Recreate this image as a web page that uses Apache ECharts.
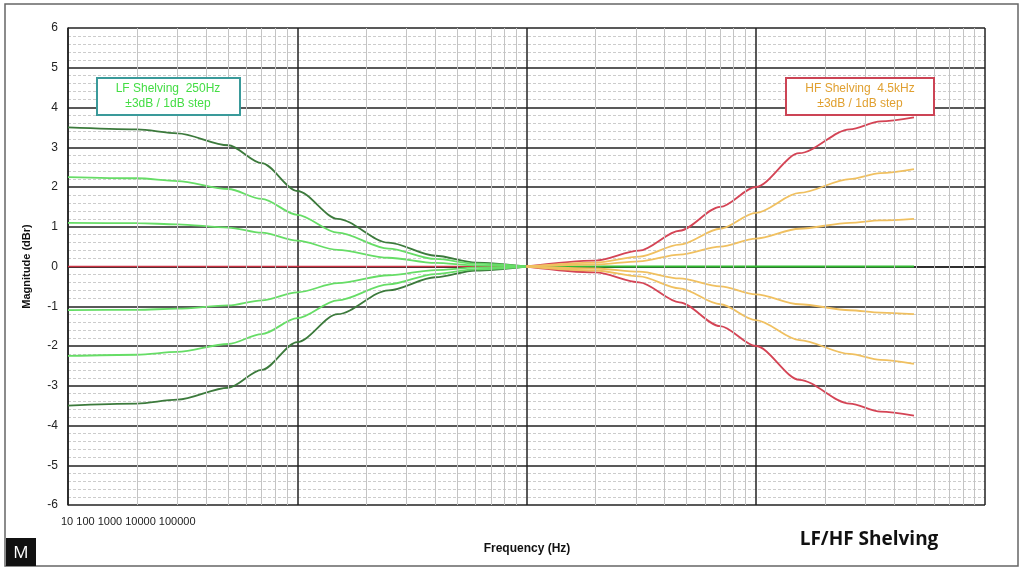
<!DOCTYPE html>
<html><head><meta charset="utf-8">
<script src="https://cdn.jsdelivr.net/npm/echarts@6/dist/echarts.min.js"></script>
<style>html,body{margin:0;background:#fff}#c{width:1024px;height:570px}</style>
</head><body><div id="c"></div>
<script>
// frequencies in Hz
const lfFreq = [10, 20, 30, 50, 70, 100, 150, 250, 400, 600, 1000];
const lfOuter = [3.5, 3.45, 3.35, 3.05, 2.6, 1.9, 1.2, 0.6, 0.27, 0.1, 0];
const lfMid = [2.25, 2.22, 2.15, 1.95, 1.7, 1.3, 0.85, 0.45, 0.19, 0.07, 0];
const lfInner = [1.1, 1.09, 1.06, 0.98, 0.85, 0.65, 0.42, 0.22, 0.09, 0.03, 0];

const hfFreq = [1000, 2000, 3100, 4650, 7000, 10000, 15500, 25700, 35000, 49000];
const hfOuter = [0, 0.15, 0.4, 0.9, 1.5, 2.0, 2.85, 3.45, 3.65, 3.75];
const hfMid = [0, 0.1, 0.25, 0.55, 0.95, 1.35, 1.85, 2.2, 2.35, 2.45];
const hfInner = [0, 0.05, 0.13, 0.3, 0.5, 0.7, 0.95, 1.1, 1.16, 1.2];

const minorFreqs = [];
[10, 100, 1000, 10000].forEach(d => { for (let k = 2; k <= 9; k++) minorFreqs.push(d * k); });

const pair = (xs, ys, sign) => xs.map((x, i) => [x, sign * ys[i]]);

function curve(data, color, w) {
  return { type: 'line', data, smooth: 0.3, smoothMonotone: 'x', symbol: 'none', silent: true,
    lineStyle: { color, width: w || 1.8 } };
}

const chart = echarts.init(document.getElementById('c'));
chart.setOption({
  animation: false,
  grid: { left: 68, right: 39, top: 28, bottom: 65 },
  xAxis: {
    type: 'log', min: 10, max: 100000, logBase: 10,
    axisLabel: { show: false }, axisTick: { show: false },
    axisLine: { lineStyle: { color: '#222', width: 1.5 } },
    splitLine: { show: true, lineStyle: { color: '#222', width: 1.5 } }
  },
  yAxis: {
    type: 'value', min: -6, max: 6, interval: 1,
    name: 'Magnitude (dBr)', nameLocation: 'middle', nameGap: 36,
    nameTextStyle: { fontFamily: 'Liberation Sans', fontWeight: 'bold', fontSize: 11, color: '#111' },
    axisLabel: { fontFamily: 'Liberation Sans', fontSize: 12, color: '#222', margin: 10 },
    axisTick: { show: false },
    axisLine: { show: true, lineStyle: { color: '#222', width: 1.5 } },
    splitLine: { lineStyle: { color: '#222', width: 1.5 } },
    minorTick: { show: false, splitNumber: 5 },
    minorSplitLine: { show: true, lineStyle: { color: '#ccc', type: [3, 2], width: 1 } }
  },
  series: [
    { type: 'line', data: [], silent: true,
      markLine: { symbol: 'none', silent: true, label: { show: false },
        lineStyle: { color: '#c4c4c4', type: 'solid', width: 1 },
        data: minorFreqs.map(f => ({ xAxis: f })) } },
    curve([[10, 0], [1000, 0]], '#cc3344', 1.5),
    curve([[1000, 0], [49000, 0]], '#33bb33', 2),
    curve(pair(lfFreq, lfOuter, 1), '#3c7a3c'),
    curve(pair(lfFreq, lfOuter, -1), '#3c7a3c'),
    curve(pair(lfFreq, lfMid, 1), '#66dd66'),
    curve(pair(lfFreq, lfMid, -1), '#66dd66'),
    curve(pair(lfFreq, lfInner, 1), '#66dd66'),
    curve(pair(lfFreq, lfInner, -1), '#66dd66'),
    curve(pair(hfFreq, hfOuter, 1), '#d44455'),
    curve(pair(hfFreq, hfOuter, -1), '#d44455'),
    curve(pair(hfFreq, hfMid, 1), '#f0c060'),
    curve(pair(hfFreq, hfMid, -1), '#f0c060'),
    curve(pair(hfFreq, hfInner, 1), '#f0c060'),
    curve(pair(hfFreq, hfInner, -1), '#f0c060')
  ],
  graphic: [
    { type: 'rect', shape: { x: 5, y: 4, width: 1013, height: 562 }, style: { fill: 'none', stroke: '#666', lineWidth: 1.5 }, z: 100 },
    { type: 'rect', shape: { x: 97, y: 78, width: 143, height: 37 }, style: { fill: '#fff', stroke: '#3a9a9a', lineWidth: 2 }, z: 100 },
    { type: 'text', x: 168, y: 96, z: 101, style: { text: 'LF Shelving  250Hz\n±3dB / 1dB step', align: 'center', verticalAlign: 'middle', fill: '#44dd44', font: '12px Liberation Sans', lineHeight: 15 } },
    { type: 'rect', shape: { x: 786, y: 78, width: 148, height: 37 }, style: { fill: '#fff', stroke: '#cc4455', lineWidth: 2 }, z: 100 },
    { type: 'text', x: 860, y: 96, z: 101, style: { text: 'HF Shelving  4.5kHz\n±3dB / 1dB step', align: 'center', verticalAlign: 'middle', fill: '#e0a030', font: '12px Liberation Sans', lineHeight: 15 } },
    { type: 'text', x: 61, y: 516, style: { text: '10 100 1000 10000 100000', fill: '#222', font: '11px Liberation Sans' } },
    { type: 'text', x: 527, y: 549, style: { text: 'Frequency (Hz)', align: 'center', verticalAlign: 'middle', fill: '#111', font: 'bold 12px Liberation Sans' } },
    { type: 'text', x: 869, y: 540, style: { text: 'LF/HF Shelving', align: 'center', verticalAlign: 'middle', fill: '#111', font: 'bold 19px Open Sans' } },
    { type: 'rect', shape: { x: 6, y: 538, width: 30, height: 28 }, style: { fill: '#111' }, z: 100 },
    { type: 'text', x: 21, y: 553, z: 101, style: { text: 'M', align: 'center', verticalAlign: 'middle', fill: '#fff', font: '17px Open Sans' } }
  ]
});
</script></body></html>
